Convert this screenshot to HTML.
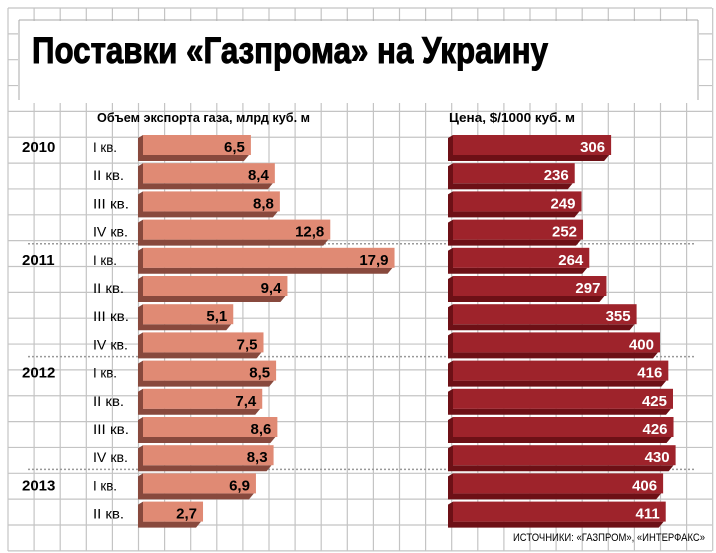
<!DOCTYPE html>
<html><head><meta charset="utf-8"><style>body{margin:0;background:#fff}svg{display:block}</style></head><body>
<svg id="s" width="716" height="553" xmlns="http://www.w3.org/2000/svg" font-family="Liberation Sans, DejaVu Sans, sans-serif">
<rect width="716" height="553" fill="#fff"/>
<g id="grid" stroke="#c4c4c4" stroke-width="1.2"></g>
<rect x="18" y="21" width="681" height="82" fill="#fff"/>
<line x1="19" y1="20" x2="698" y2="20" stroke="#aaa"/>
<line x1="698" y1="20" x2="698" y2="100" stroke="#aaa"/>
<line x1="19" y1="20" x2="19" y2="100" stroke="#aaa"/>
<text x="32" y="63" font-size="37" font-weight="bold" stroke="#000" stroke-width="1" textLength="516" lengthAdjust="spacingAndGlyphs">Поставки «Газпрома» на Украину</text>
<g id="bars"></g>
<text x="97" y="122" font-size="13" font-weight="bold" textLength="213" lengthAdjust="spacingAndGlyphs">Объем экспорта газа, млрд куб. м</text>
<text x="449" y="122" font-size="13" font-weight="bold" textLength="126" lengthAdjust="spacingAndGlyphs">Цена, $/1000 куб. м</text>
<text x="513" y="541" font-size="11" textLength="192" lengthAdjust="spacingAndGlyphs">ИСТОЧНИКИ: «ГАЗПРОМ», «ИНТЕРФАКС»</text>
</svg>
<script>
const NS="http://www.w3.org/2000/svg";
function el(p,t,a,txt){const e=document.createElementNS(NS,t);for(const k in a)e.setAttribute(k,a[k]);if(txt!==undefined)e.textContent=txt;p.appendChild(e);return e;}
const g=document.getElementById('grid');
for(let x=8;x<=714;x+=26.1)el(g,'line',{x1:x,y1:8,x2:x,y2:551});
for(let y=8;y<=552;y+=25.85)el(g,'line',{x1:8,y1:y,x2:712,y2:y});
const b=document.getElementById('bars');
const L=[6.5,8.4,8.8,12.8,17.9,9.4,5.1,7.5,8.5,7.4,8.6,8.3,6.9,2.7];
const R=[306,236,249,252,264,297,355,400,416,425,426,430,406,411];
const Q=['I кв.','II кв.','III кв.','IV кв.'];
const Y={0:'2010',4:'2011',8:'2012',12:'2013'};
[4,8,12].forEach(i=>{const y=135+28.2*i-4;el(b,'line',{x1:28,y1:y,x2:695,y2:y,stroke:'#999','stroke-width':1.5,'stroke-dasharray':'2,2'});});
function bar(x0,r,top,face,side){
 el(b,'polygon',{points:`${x0-5},${top+3} ${x0},${top} ${x0},${top+20} ${r-2},${top+20} ${r-7},${top+26} ${x0-5},${top+26}`,fill:side});
 el(b,'rect',{x:x0,y:top,width:r-x0,height:20,fill:face});
}
for(let i=0;i<14;i++){
 const top=135+28.2*i;
 if(Y[i])el(b,'text',{x:22,y:top+17,'font-size':15,'font-weight':'bold'},Y[i]);
 el(b,'text',{x:93,y:top+17,'font-size':14,textLength:[24,31,36,35][i%4],lengthAdjust:'spacingAndGlyphs'},Q[i%4]);
 const lr=169+12.6*L[i];
 bar(143,lr,top,'#e08a74','#88493d');
 el(b,'text',{x:lr-6,y:top+17,'font-size':15,'font-weight':'bold','text-anchor':'end'},L[i].toString().replace('.',','));
 const rr=452+0.52*R[i];
 bar(453,rr,top,'#9e232b','#6d1016');
 el(b,'text',{x:rr-6,y:top+17,'font-size':15,'font-weight':'bold','text-anchor':'end',fill:'#fff'},R[i]);
}
</script>
</body></html>
